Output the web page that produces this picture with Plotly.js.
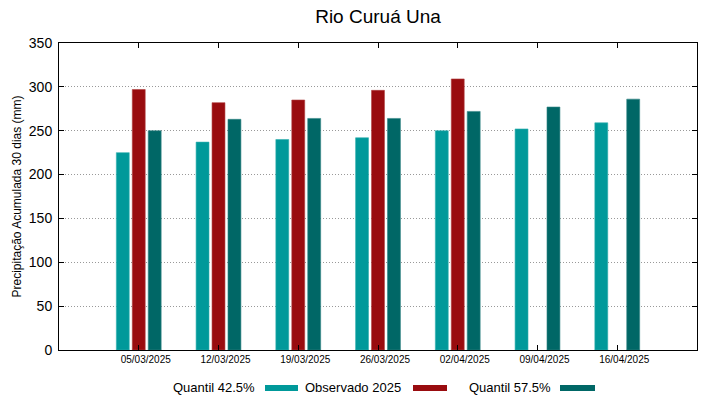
<!DOCTYPE html>
<html><head><meta charset="utf-8">
<script src="https://cdn.plot.ly/plotly-3.0.1.min.js"></script>
<style>html,body{margin:0;padding:0;background:#fff}</style>
</head><body><div id="c" style="width:719px;height:399px"></div>
<script>
const dates = ["05/03/2025","12/03/2025","19/03/2025","26/03/2025","02/04/2025","09/04/2025","16/04/2025"];
const q425 = [225, 237, 240, 242, 250, 252, 259];
const obs2025 = [297, 282, 285, 296, 309, null, null];
const q575 = [250, 263, 264, 264, 272, 277, 286];
const yTicks = [0,50,100,150,200,250,300,350];
const names = ["Quantil 42.5%", "Observado 2025", "Quantil 57.5%"];
const colors = ["#00999a", "#990c0f", "#006766"];
const lineCols = ["#33b0b0", "#b04040", "#338585"];

const series = [q425, obs2025, q575];
const traces = series.map((s,i)=>({
  type:'bar', x:dates, y:s, name:names[i],
  marker:{color:colors[i], line:{color:lineCols[i], width:0.6}},
  showlegend:false, hoverinfo:'skip'
}));

const F = "Liberation Sans, Arial, sans-serif";
const legendX = [[178,257,265,298],[310,403,413,447],[475,553,560,595]];
const W=719,H=399;
const annotations = [], shapes = [];
names.forEach((n,i)=>{
  annotations.push({xref:'paper',yref:'paper', x:(legendX[i][1]-59)/(697-59), y:(350-387)/307,
    xanchor:'right', yanchor:'middle', text:n, showarrow:false, font:{family:F,size:13,color:'#000'}});
  shapes.push({type:'rect', xref:'paper', yref:'paper',
    x0:(legendX[i][2]-59)/638, x1:(legendX[i][3]-59)/638,
    y0:(350-391)/307, y1:(350-385)/307, fillcolor:colors[i], line:{width:0}});
});
const layout = {
  width:W, height:H,
  margin:{l:59, r:22, t:43, b:49},
  paper_bgcolor:'#fff', plot_bgcolor:'#fff',
  title:{text:"Rio Curuá Una", font:{family:F, size:19, color:'#000'}, xref:'paper', x:0.5, xanchor:'center', y:0.96, yanchor:'middle'},
  barmode:'group', bargap:0.4, bargroupgap:0.19,
  xaxis:{type:'category', range:[-1,7], showgrid:false, zeroline:false,
    showline:true, linecolor:'#000', linewidth:1, mirror:'ticks',
    ticks:'inside', ticklen:5, tickcolor:'#000',
    tickfont:{family:F, size:10, color:'#000'}, ticklabelshift:7},
  yaxis:{range:[0,350], tickvals:yTicks, ticktext:yTicks.map(String),
    showgrid:true, gridcolor:'#999', griddash:'1px,2px', gridwidth:1, zeroline:false,
    showline:true, linecolor:'#000', linewidth:1, mirror:'ticks',
    ticks:'inside', ticklen:5, tickcolor:'#000', ticklabelstandoff:3,
    tickfont:{family:F, size:14, color:'#000'},
    title:{text:"Precipitação Acumulada 30 dias (mm)", font:{family:F, size:12, color:'#000'}, standoff:4}},
  annotations, shapes
};
Plotly.newPlot('c', traces, layout, {displayModeBar:false, staticPlot:true});
</script></body></html>
